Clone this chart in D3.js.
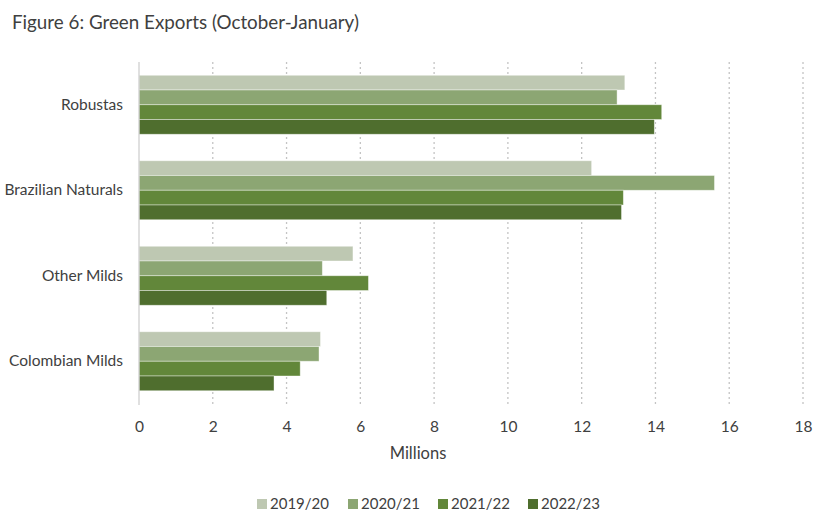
<!DOCTYPE html>
<html><head><meta charset="utf-8">
<script src="https://cdn.jsdelivr.net/npm/d3@7"></script>
<style>body{margin:0;background:#fff;} svg{display:block;font-family:Lato,"Open Sans",sans-serif;}</style>
</head><body><svg id="c" width="813" height="512"></svg>
<script>
const categories = ["Robustas","Brazilian Naturals","Other Milds","Colombian Milds"];
const seriesNames = ["2019/20","2020/21","2021/22","2022/23"];
const s2019 = [13.17, 12.27, 5.80, 4.92];
const s2020 = [12.96, 15.60, 4.97, 4.88];
const s2021 = [14.17, 13.13, 6.22, 4.37];
const s2022 = [13.97, 13.08, 5.09, 3.66];
const colors = ["#bec8b2","#8ca673","#62873a","#4f6e2e"];
const xTicks = [0,2,4,6,8,10,12,14,16,18];
const series = [s2019, s2020, s2021, s2022];

const svg = d3.select("#c");
const x = d3.scaleLinear().domain([0,18]).range([139,803]);
const y = d3.scaleBand().domain(categories).range([62,404]).paddingInner(0.31).paddingOuter(0.155);
const y1 = d3.scaleBand().domain(seriesNames).range([0,y.bandwidth()]);
const txt = "#404040";

svg.append("text").attr("x",12).attr("y",29).attr("font-size",18.8).attr("fill",txt).text("Figure 6: Green Exports (October-January)");

// gridlines
svg.append("g").selectAll("line").data(xTicks.slice(1)).join("line")
  .attr("x1",d=>x(d)).attr("x2",d=>x(d)).attr("y1",62).attr("y2",405)
  .attr("stroke","#c4c4c4").attr("stroke-width",1.3).attr("stroke-dasharray","2,3");

// bars
const g = svg.append("g");
categories.forEach((c,ci)=>{
  series.forEach((s,si)=>{
    g.append("rect").attr("x",x(0)).attr("y",y(c)+y1(seriesNames[si]))
     .attr("width",x(s[ci])-x(0)).attr("height",y1.bandwidth())
     .attr("fill",colors[si]).attr("stroke","#ffffff").attr("stroke-opacity",0.5).attr("stroke-width",0.8);
  });
});

// left axis line
svg.append("line").attr("x1",x(0)).attr("x2",x(0)).attr("y1",62).attr("y2",405).attr("stroke","#d0d0d0").attr("stroke-width",1.3);

// x axis labels
const xa = svg.append("g").attr("transform","translate(0,405)").call(d3.axisBottom(x).tickValues(xTicks).tickSize(0).tickPadding(0));
xa.select(".domain").remove();
xa.selectAll("text").attr("dy",null).attr("y",27).attr("font-size",15.5).attr("fill",txt).attr("font-family","Lato,'Open Sans',sans-serif");

// y labels
const ya = svg.append("g").attr("transform","translate(123,0)").call(d3.axisLeft(y).tickSize(0).tickPadding(0));
ya.select(".domain").remove();
ya.selectAll("text").attr("font-size",15.5).attr("fill",txt).attr("font-family","Lato,'Open Sans',sans-serif").attr("text-anchor","end").attr("x",0);

svg.append("text").attr("x",418).attr("y",459).attr("text-anchor","middle").attr("font-size",16.5).attr("fill",txt).text("Millions");

// legend
const legX = [257,348,438,528];
seriesNames.forEach((n,i)=>{
  svg.append("rect").attr("x",legX[i]).attr("y",499).attr("width",10).attr("height",10).attr("fill",colors[i]);
  svg.append("text").attr("x",legX[i]+13).attr("y",509).attr("font-size",15).attr("fill",txt).text(n);
});
</script></body></html>
